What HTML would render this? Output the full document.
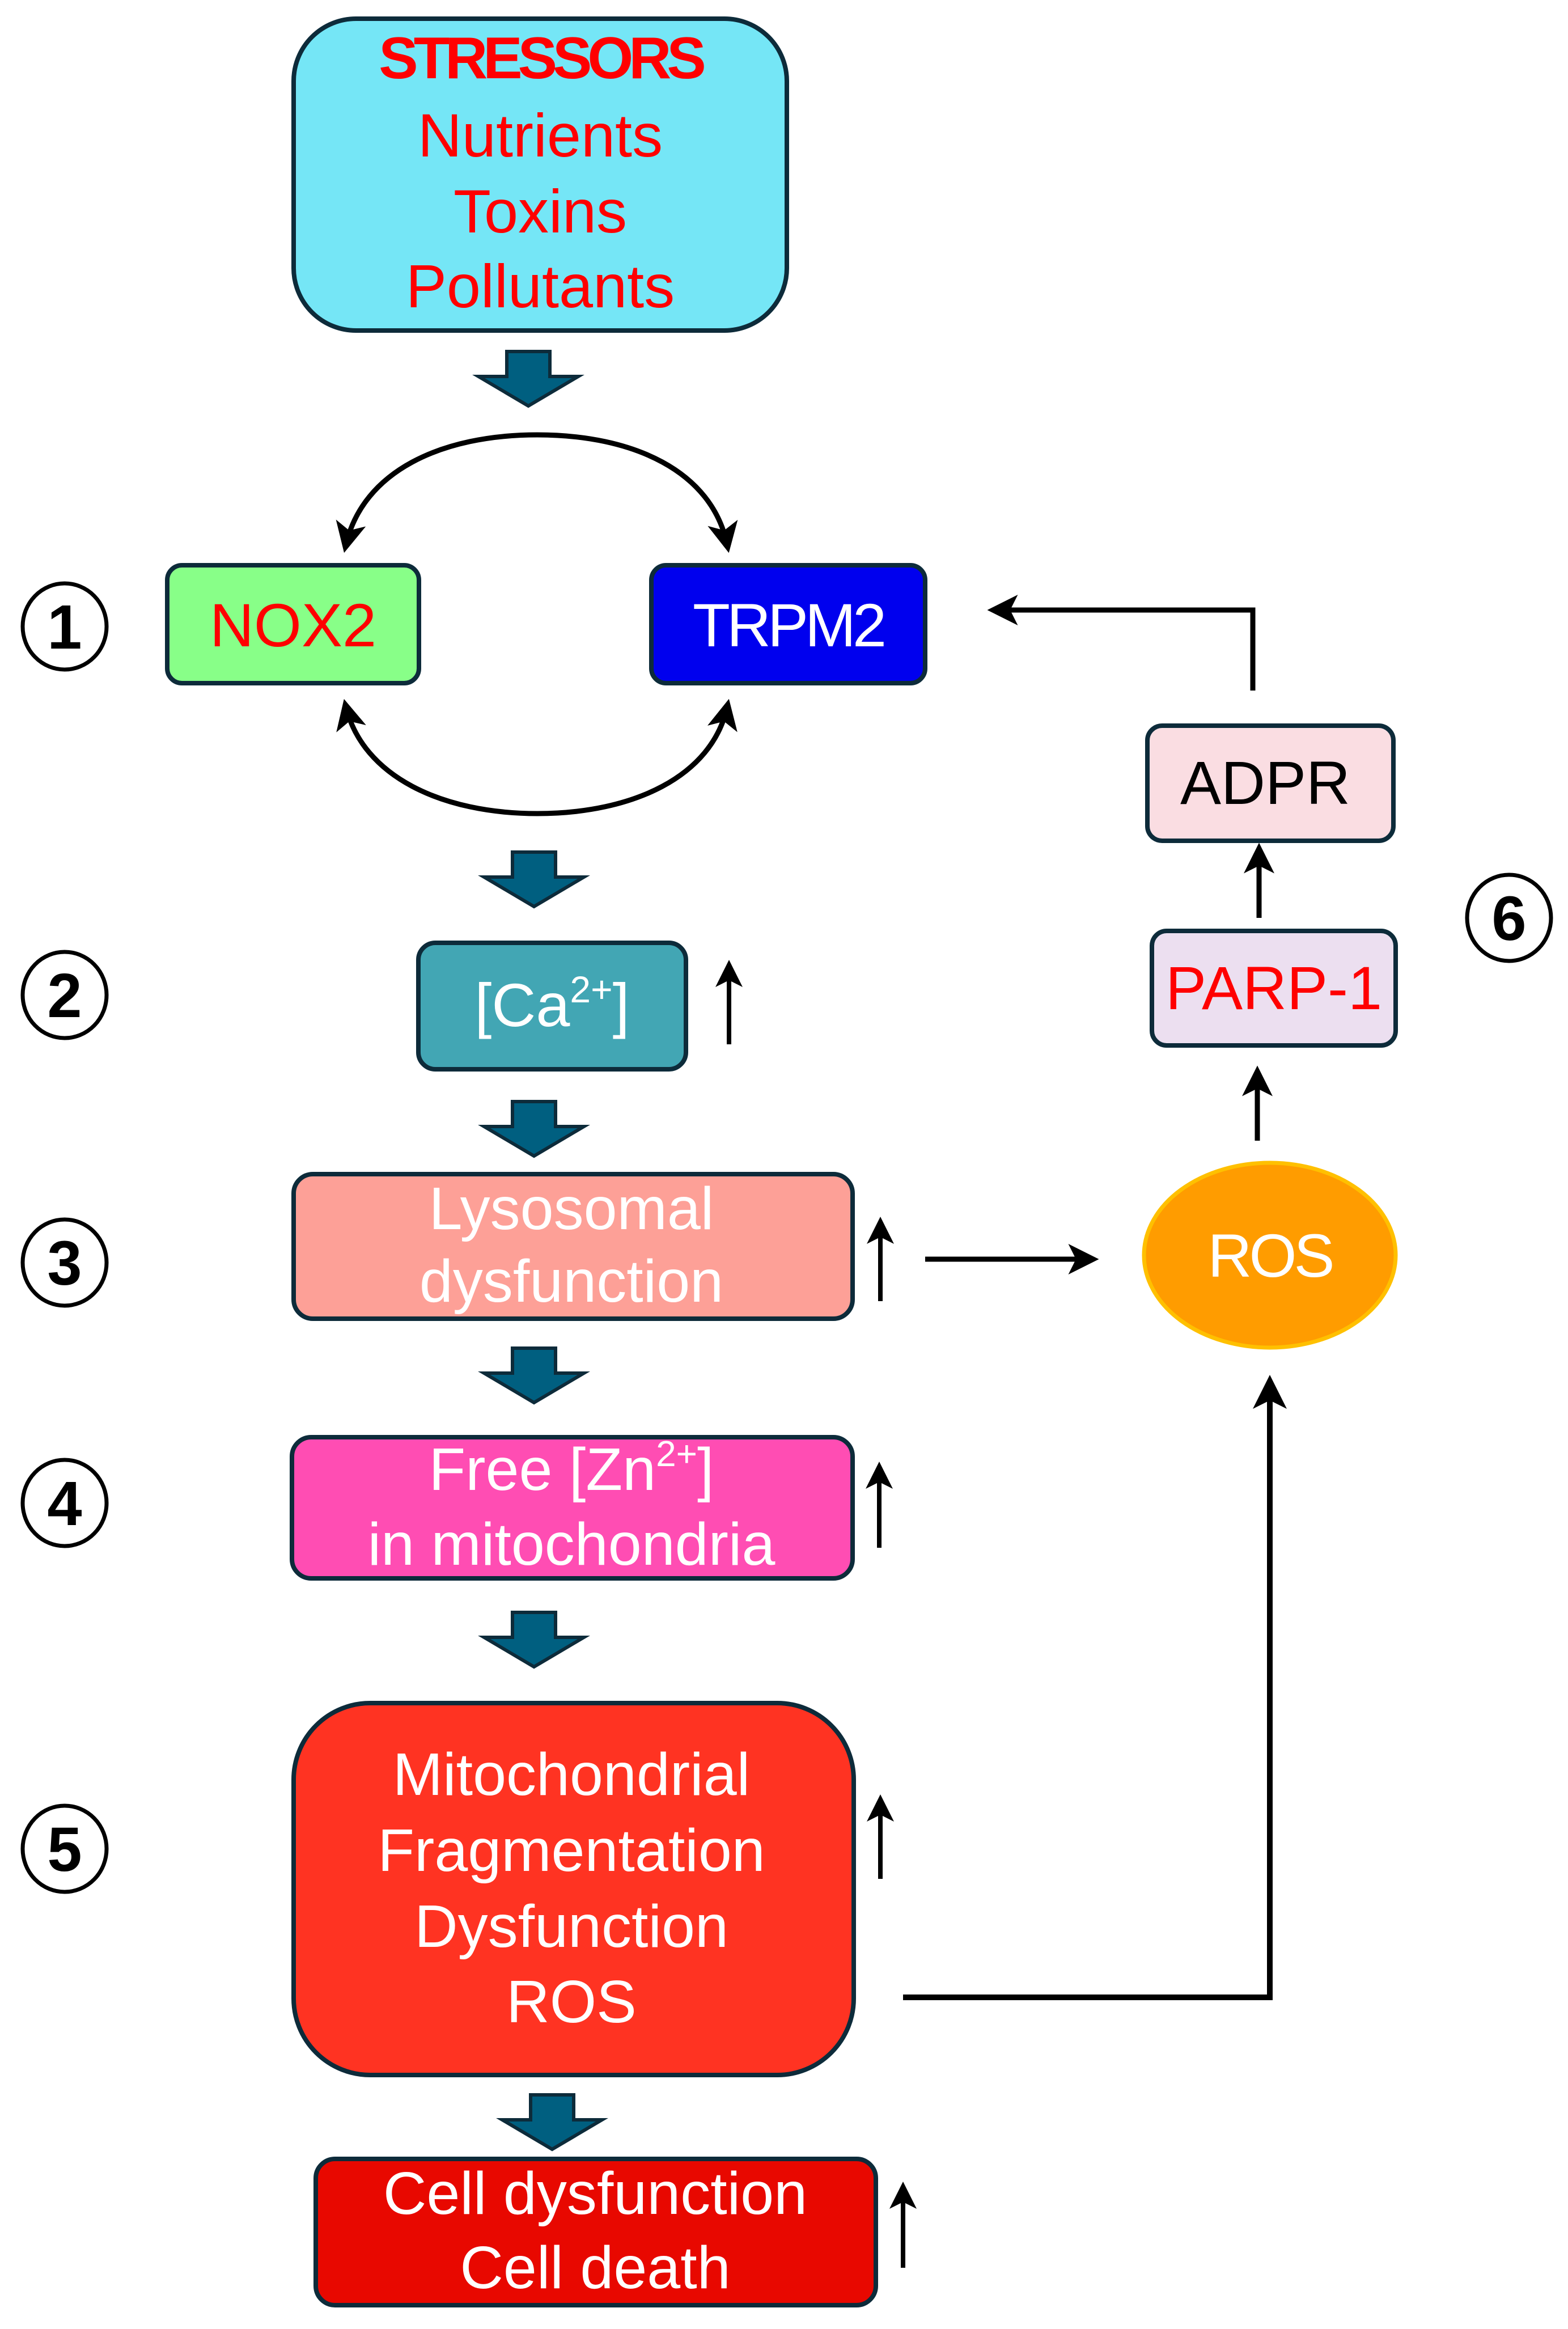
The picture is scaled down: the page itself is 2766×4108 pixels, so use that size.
<!DOCTYPE html>
<html><head><meta charset="utf-8"><style>
html,body{margin:0;padding:0;background:#fff;}
svg{display:block;}
text{font-family:"Liberation Sans",sans-serif;text-anchor:middle;}
</style></head><body>
<svg width="2766" height="4108" viewBox="0 0 2766 4108" xmlns="http://www.w3.org/2000/svg">
<defs>
<marker id="ah" markerWidth="6" markerHeight="6" refX="4.5" refY="3" orient="auto-start-reverse" markerUnits="strokeWidth">
<path d="M0,0 L6,3 L0,6 L1.5,3 Z" fill="#000"/>
</marker>
<g id="blk"><path d="M-38,0 H38 V44 H88 L0,96 L-88,44 H-38 Z" fill="#005f80" stroke="#0d2b3a" stroke-width="6" stroke-linejoin="miter"/></g>
</defs>

<rect x="518" y="33" width="870" height="550" rx="110" fill="#75e6f6" stroke="#0d2b3a" stroke-width="8"/>
<text x="953" y="138" font-size="104" font-weight="bold" fill="#ff0000" letter-spacing="-8">STRESSORS</text>
<text x="953" y="276" font-size="108" fill="#ff0000">Nutrients</text>
<text x="953" y="410" font-size="108" fill="#ff0000">Toxins</text>
<text x="953" y="542" font-size="108" fill="#ff0000">Pollutants</text>

<use href="#blk" x="932" y="620"/>

<path d="M610,962 C640,830 780,767 948,767 C1116,767 1256,830 1283,962" fill="none" stroke="#000" stroke-width="9" marker-start="url(#ah)" marker-end="url(#ah)"/>
<path d="M610,1246 C640,1370 780,1435 948,1435 C1116,1435 1256,1370 1283,1246" fill="none" stroke="#000" stroke-width="9" marker-start="url(#ah)" marker-end="url(#ah)"/>

<rect x="295" y="997" width="444" height="208" rx="26" fill="#88ff88" stroke="#0d2b3a" stroke-width="8"/>
<text x="517" y="1140" font-size="108" fill="#ff0000">NOX2</text>
<rect x="1149" y="997" width="483" height="208" rx="26" fill="#0000ee" stroke="#0d2b3a" stroke-width="8"/>
<text x="1390" y="1140" font-size="108" fill="#fff" letter-spacing="-6">TRPM2</text>

<path d="M2210,1218 V1076 H1755" fill="none" stroke="#000" stroke-width="9" marker-end="url(#ah)"/>
<rect x="2024" y="1280" width="434" height="203" rx="26" fill="#fadde2" stroke="#0d2b3a" stroke-width="8"/>
<text x="2232" y="1418" font-size="108" fill="#000">ADPR</text>

<line x1="2221" y1="1619" x2="2221" y2="1500" stroke="#000" stroke-width="9" marker-end="url(#ah)"/>
<rect x="2032" y="1642" width="430" height="202" rx="26" fill="#ecdff0" stroke="#0d2b3a" stroke-width="8"/>
<text x="2247" y="1780" font-size="108" fill="#ff0000">PARP-1</text>

<line x1="2218" y1="2012" x2="2218" y2="1893" stroke="#000" stroke-width="9" marker-end="url(#ah)"/>
<ellipse cx="2240" cy="2214" rx="222" ry="163" fill="#ff9c00" stroke="#ffc000" stroke-width="7"/>
<text x="2240" y="2252" font-size="108" fill="#fff" letter-spacing="-5">ROS</text>

<use href="#blk" x="942" y="1503"/>
<rect x="738" y="1663" width="472" height="223" rx="30" fill="#42a6b4" stroke="#0d2b3a" stroke-width="8"/>
<text x="974" y="1810" font-size="108" fill="#fff">[Ca<tspan font-size="66" dy="-42">2+</tspan><tspan dy="42">]</tspan></text>
<line x1="1286" y1="1842" x2="1286" y2="1705" stroke="#000" stroke-width="8" marker-end="url(#ah)"/>

<use href="#blk" x="942" y="1943"/>
<rect x="518" y="2071" width="986" height="255" rx="34" fill="#fda097" stroke="#0d2b3a" stroke-width="8"/>
<text x="1008" y="2168" font-size="106" fill="#fff">Lysosomal</text>
<text x="1008" y="2296" font-size="106" fill="#fff">dysfunction</text>
<line x1="1553" y1="2295" x2="1553" y2="2158" stroke="#000" stroke-width="8" marker-end="url(#ah)"/>
<line x1="1632" y1="2221" x2="1925" y2="2221" stroke="#000" stroke-width="9" marker-end="url(#ah)"/>

<use href="#blk" x="942" y="2378"/>
<rect x="515" y="2535" width="989" height="249" rx="34" fill="#ff4db3" stroke="#0d2b3a" stroke-width="8"/>
<text x="1008" y="2628" font-size="106" fill="#fff">Free [Zn<tspan font-size="64" dy="-42">2+</tspan><tspan dy="42">]</tspan></text>
<text x="1008" y="2760" font-size="106" fill="#fff">in mitochondria</text>
<line x1="1551" y1="2730" x2="1551" y2="2590" stroke="#000" stroke-width="8" marker-end="url(#ah)"/>

<use href="#blk" x="942" y="2844"/>
<rect x="518" y="3004" width="988" height="656" rx="135" fill="#ff3322" stroke="#0d2b3a" stroke-width="8"/>
<text x="1008" y="3166" font-size="106" fill="#fff">Mitochondrial</text>
<text x="1008" y="3300" font-size="106" fill="#fff">Fragmentation</text>
<text x="1008" y="3434" font-size="106" fill="#fff">Dysfunction</text>
<text x="1008" y="3567" font-size="106" fill="#fff">ROS</text>
<line x1="1553" y1="3314" x2="1553" y2="3177" stroke="#000" stroke-width="8" marker-end="url(#ah)"/>
<path d="M1593,3523 H2240 V2440" fill="none" stroke="#000" stroke-width="10" marker-end="url(#ah)"/>

<use href="#blk" x="974" y="3695"/>
<rect x="557" y="3808" width="988" height="258" rx="34" fill="#e80800" stroke="#0d2b3a" stroke-width="8"/>
<text x="1050" y="3905" font-size="106" fill="#fff">Cell dysfunction</text>
<text x="1050" y="4036" font-size="106" fill="#fff">Cell death</text>
<line x1="1593" y1="4000" x2="1593" y2="3860" stroke="#000" stroke-width="8" marker-end="url(#ah)"/>

<g fill="#fff" stroke="#000" stroke-width="7">
<ellipse cx="114" cy="1105" rx="74" ry="76"/>
<ellipse cx="114" cy="1755" rx="74" ry="76"/>
<ellipse cx="114" cy="2227" rx="74" ry="76"/>
<ellipse cx="114" cy="2651" rx="74" ry="76"/>
<ellipse cx="114" cy="3261" rx="74" ry="76"/>
<ellipse cx="2662" cy="1619" rx="74" ry="76"/>
</g>
<g font-size="110" font-weight="bold" fill="#000">
<text x="114" y="1144">1</text>
<text x="114" y="1794">2</text>
<text x="114" y="2266">3</text>
<text x="114" y="2690">4</text>
<text x="114" y="3300">5</text>
<text x="2662" y="1658">6</text>
</g>
</svg>
</body></html>
